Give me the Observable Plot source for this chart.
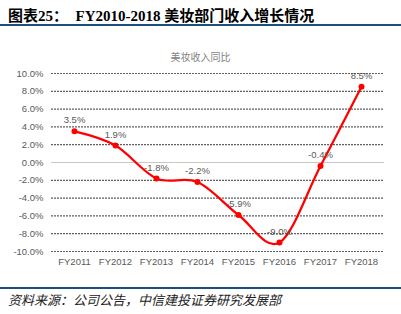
<!DOCTYPE html>
<html><head><meta charset="utf-8">
<script src="https://cdn.jsdelivr.net/npm/d3@7"></script>
<script src="https://cdn.jsdelivr.net/npm/@observablehq/plot@0.6"></script>
<style>
body{margin:0;background:#fff;width:401px;height:314px;position:relative;overflow:hidden}
#title{position:absolute;left:8px;top:4px;font-family:"Liberation Serif","Noto Sans CJK SC",serif;font-weight:bold;font-size:15px;color:#000;white-space:nowrap}
#title .cn{font-family:"Noto Sans CJK SC",sans-serif}
.bar{position:absolute;left:0;width:401px;height:2px;background:#1b4f80}
#sub{position:absolute;left:0;width:401px;top:49px;text-align:center;font-family:"Noto Sans CJK SC",sans-serif;font-size:10px;color:#7f7f7f}
#chart{position:absolute;left:0;top:64px}
#src{position:absolute;left:8px;top:290px;font-family:"Noto Sans CJK SC",sans-serif;font-style:italic;font-size:13px;color:#222;white-space:nowrap}
</style></head><body>
<div id="title"><span class="cn">图表</span>25：&nbsp;&nbsp;FY2010-2018 <span class="cn">美妆部门收入增长情况</span></div>
<div class="bar" style="top:24px"></div>
<div id="sub">美妆收入同比</div>
<div id="chart"></div>
<div class="bar" style="top:287px"></div>
<div id="src">资料来源：公司公告，中信建投证券研究发展部</div>
<script>
const years = ["FY2011","FY2012","FY2013","FY2014","FY2015","FY2016","FY2017","FY2018"];
const growth = [3.5, 1.9, -1.8, -2.2, -5.9, -9.0, -0.4, 8.5];
const yTicks = [-10, -8, -6, -4, -2, 0, 2, 4, 6, 8, 10];

const data = years.map((y, i) => ({year: y, v: growth[i]}));
const grid = yTicks.filter(t => t !== 0);

const chart = Plot.plot({
  width: 401, height: 215,
  marginLeft: 51, marginRight: 17, marginTop: 9, marginBottom: 28,
  style: {fontFamily: "'Liberation Sans', Arial, sans-serif", fontSize: "9.5px", color: "#595959", background: "transparent"},
  x: {type: "point", domain: years, padding: 0.5, label: null, tickSize: 0, tickPadding: 7},
  y: {domain: [-10, 10], ticks: yTicks, tickFormat: d => d.toFixed(1) + "%", label: null, tickSize: 0, tickPadding: 8},
  marks: [
    Plot.gridY(grid, {stroke: "#606060", strokeOpacity: 1, strokeDasharray: "2 1", strokeWidth: 1.2}),
    Plot.gridY([0], {stroke: "#c8c8c8", strokeOpacity: 1, strokeWidth: 1.2}),
    Plot.line(data, {x: "year", y: "v", stroke: "#ff0000", strokeWidth: 2.25, curve: "cardinal"}),
    Plot.dot(data, {x: "year", y: "v", fill: "#ff0000", r: 3}),
    Plot.text(data, {x: "year", y: "v", text: d => d.v.toFixed(1) + "%", dy: -11, fill: "#595959", fontSize: 9.5})
  ]
});
document.getElementById("chart").appendChild(chart);
</script>
</body></html>
